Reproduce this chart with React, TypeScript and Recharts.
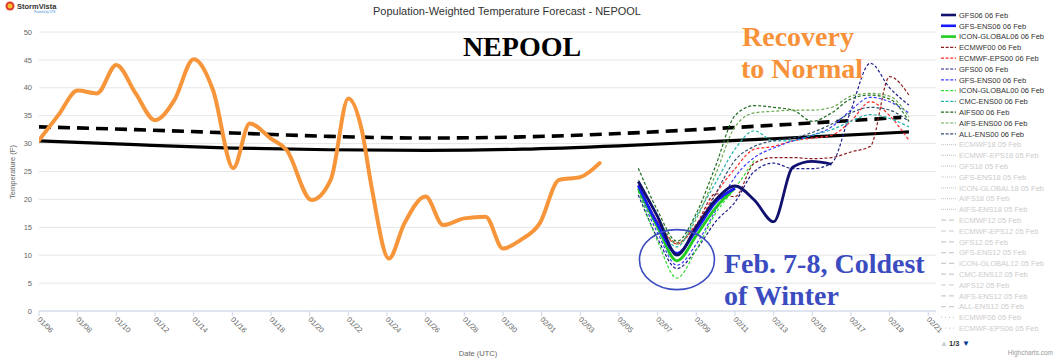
import React from 'react';
import { LineChart, Line, XAxis, YAxis, CartesianGrid, ReferenceDot } from 'recharts';

// ---------- axis data ----------
const X_TICKS = [0, 2, 4, 6, 8, 10, 12, 14, 16, 18, 20, 22, 24, 26, 28, 30, 32, 34, 36, 38, 40, 42, 44, 46];
const X_TICK_LABELS = ['01/06', '01/08', '01/10', '01/12', '01/14', '01/16', '01/18', '01/20', '01/22', '01/24', '01/26', '01/28', '01/30', '02/01', '02/03', '02/05', '02/07', '02/09', '02/11', '02/13', '02/15', '02/17', '02/19', '02/21'];
const Y_TICKS = [0, 5, 10, 15, 20, 25, 30, 35, 40, 45, 50];

// ---------- observed (days since 01/06 00Z) ----------
const OBS_DAYS = [0, 1, 2, 3, 4, 5, 6, 7, 8, 9, 10.05, 10.9, 12, 12.8, 14.1, 15.1, 16, 16.7, 17.2, 18.1, 18.9, 20, 20.9, 22, 23.1, 24, 24.9, 25.9, 26.9, 28, 29];
const OBS_VALUES = [30.6, 35.1, 39.5, 39.0, 44.1, 39.0, 34.2, 37.8, 45.1, 39.6, 25.6, 33.6, 30.9, 28.9, 19.9, 23.6, 38.1, 32.4, 22.3, 9.4, 15.7, 20.5, 15.4, 16.6, 16.9, 11.2, 12.7, 15.7, 23.5, 24.0, 26.5];

// ---------- normals ----------
const NORMAL_DAYS = [0, 5, 10, 15, 20, 25, 30, 35, 40, 45];
const NORMAL_VALUES = [30.5, 29.8, 29.2, 28.9, 28.8, 29.0, 29.6, 30.4, 31.2, 32.1];
const NORMAL2_DAYS = [0, 5, 10, 15, 20, 25, 30, 35, 40, 44.6];
const NORMAL2_VALUES = [33.0, 32.5, 31.9, 31.3, 31.0, 31.2, 31.8, 32.7, 33.7, 34.7];

// ---------- forecasts (days 31..45) ----------
const FC_DAYS = [31, 32, 33, 34, 35, 36, 37, 38, 39, 40, 41, 42, 43, 44, 45];
const GFS06 = [23.2, 16.9, 10.0, 15.1, 19.9, 22.4, 19.9, 16.0, 25.8, 26.8, 26.3];
const GFS_ENS06 = [22.5, 15.5, 10.3, 14.5, 19.5, 22.0];
const ICON_GLOBAL06 = [22.0, 15.0, 9.0, 13.5, 18.5, 22.0];
const ECMWF00 = [22.5, 16.0, 12.2, 15.5, 21.0, 20.5, 26.5, 27.5, 27.5, 27.3, 27.5, 28.5, 29.5, 42.0, 38.7];
const ECMWF_EPS00 = [23.0, 16.0, 12.0, 15.5, 21.0, 25.5, 29.0, 29.5, 30.5, 31.0, 31.5, 34.0, 37.5, 35.0, 30.6];
const GFS00 = [20.8, 13.0, 7.6, 11.0, 16.0, 19.5, 25.0, 26.5, 25.5, 25.5, 26.5, 36.0, 44.4, 40.0, 36.9];
const GFS_ENS00 = [21.5, 14.0, 8.2, 12.0, 18.0, 24.0, 27.5, 29.2, 30.5, 31.5, 33.0, 36.0, 38.3, 37.5, 35.5];
const ICON_GLOBAL00 = [21.5, 12.5, 5.9, 11.0, 17.5, 22.0, 27.0];
const CMC_ENS00 = [22.0, 15.5, 11.5, 17.0, 23.0, 29.0, 32.3, 30.5, 30.5, 31.5, 32.5, 34.0, 35.2, 34.5, 33.0];
const AIFS00 = [25.6, 18.0, 12.5, 17.5, 26.0, 35.0, 36.8, 36.5, 36.0, 34.0, 35.5, 38.0, 38.7, 38.0, 34.0];
const AIFS_ENS00 = [23.5, 17.0, 12.0, 16.5, 24.5, 33.0, 35.5, 35.8, 36.0, 36.0, 36.5, 38.5, 39.0, 38.5, 34.8];
const ALL_ENS00 = [22.0, 15.0, 10.5, 14.5, 21.0, 27.0, 29.5, 30.5, 31.0, 32.0, 33.5, 35.5, 36.5, 36.0, 34.0];

const pts = (days: number[], vals: number[]) => vals.map((v, i) => ({ x: days[i], v }));

type Fc = { name: string; values: number[]; color: string; thick: boolean };
const FORECASTS: Fc[] = [
  { name: 'ECMWF00 06 Feb', values: ECMWF00, color: '#8b1a1a', thick: false },
  { name: 'ECMWF-EPS00 06 Feb', values: ECMWF_EPS00, color: '#ff2a2a', thick: false },
  { name: 'GFS00 06 Feb', values: GFS00, color: '#1c1c8a', thick: false },
  { name: 'GFS-ENS00 06 Feb', values: GFS_ENS00, color: '#3d3dff', thick: false },
  { name: 'ICON-GLOBAL00 06 Feb', values: ICON_GLOBAL00, color: '#33dd33', thick: false },
  { name: 'CMC-ENS00 06 Feb', values: CMC_ENS00, color: '#20b2aa', thick: false },
  { name: 'AIFS00 06 Feb', values: AIFS00, color: '#1f6b1f', thick: false },
  { name: 'AIFS-ENS00 06 Feb', values: AIFS_ENS00, color: '#6aa84f', thick: false },
  { name: 'ALL-ENS00 06 Feb', values: ALL_ENS00, color: '#2f4f6f', thick: false },
  { name: 'ICON-GLOBAL06 06 Feb', values: ICON_GLOBAL06, color: '#22cc22', thick: true },
  { name: 'GFS-ENS06 06 Feb', values: GFS_ENS06, color: '#1a1aff', thick: true },
  { name: 'GFS06 06 Feb', values: GFS06, color: '#10106e', thick: true },
];

// ---------- legend ----------
type LegendItem = { name: string; color: string; style: 'solid' | 'dash' | 'dot' | 'longdash' | 'dotspaced' };
const LEGEND: LegendItem[] = [
  { name: 'GFS06 06 Feb', color: '#10106e', style: 'solid' },
  { name: 'GFS-ENS06 06 Feb', color: '#1a1aff', style: 'solid' },
  { name: 'ICON-GLOBAL06 06 Feb', color: '#22cc22', style: 'solid' },
  { name: 'ECMWF00 06 Feb', color: '#8b1a1a', style: 'dash' },
  { name: 'ECMWF-EPS00 06 Feb', color: '#ff2a2a', style: 'dash' },
  { name: 'GFS00 06 Feb', color: '#1c1c8a', style: 'dash' },
  { name: 'GFS-ENS00 06 Feb', color: '#3d3dff', style: 'dash' },
  { name: 'ICON-GLOBAL00 06 Feb', color: '#33dd33', style: 'dash' },
  { name: 'CMC-ENS00 06 Feb', color: '#20b2aa', style: 'dash' },
  { name: 'AIFS00 06 Feb', color: '#1f6b1f', style: 'dash' },
  { name: 'AIFS-ENS00 06 Feb', color: '#6aa84f', style: 'dash' },
  { name: 'ALL-ENS00 06 Feb', color: '#2f4f6f', style: 'dash' },
  { name: 'ECMWF18 05 Feb', color: '#cccccc', style: 'dot' },
  { name: 'ECMWF-EPS18 05 Feb', color: '#cccccc', style: 'dot' },
  { name: 'GFS18 05 Feb', color: '#cccccc', style: 'dot' },
  { name: 'GFS-ENS18 05 Feb', color: '#cccccc', style: 'dot' },
  { name: 'ICON-GLOBAL18 05 Feb', color: '#cccccc', style: 'dot' },
  { name: 'AIFS18 05 Feb', color: '#cccccc', style: 'dot' },
  { name: 'AIFS-ENS18 05 Feb', color: '#cccccc', style: 'dot' },
  { name: 'ECMWF12 05 Feb', color: '#cccccc', style: 'longdash' },
  { name: 'ECMWF-EPS12 05 Feb', color: '#cccccc', style: 'longdash' },
  { name: 'GFS12 05 Feb', color: '#cccccc', style: 'longdash' },
  { name: 'GFS-ENS12 05 Feb', color: '#cccccc', style: 'longdash' },
  { name: 'ICON-GLOBAL12 05 Feb', color: '#cccccc', style: 'longdash' },
  { name: 'CMC-ENS12 05 Feb', color: '#cccccc', style: 'longdash' },
  { name: 'AIFS12 05 Feb', color: '#cccccc', style: 'longdash' },
  { name: 'AIFS-ENS12 05 Feb', color: '#cccccc', style: 'longdash' },
  { name: 'ALL-ENS12 05 Feb', color: '#cccccc', style: 'longdash' },
  { name: 'ECMWF06 05 Feb', color: '#cccccc', style: 'dotspaced' },
  { name: 'ECMWF-EPS06 05 Feb', color: '#cccccc', style: 'dotspaced' },
];

const FONT = "'Liberation Sans', Arial, sans-serif";
const SERIF = "'Liberation Serif', 'Times New Roman', serif";

const XTick = (props: any) => {
  const { x, y, payload } = props;
  const idx = X_TICKS.indexOf(payload.value);
  const label = idx >= 0 ? X_TICK_LABELS[idx] : '';
  const ax = x - 2;
  const ay = y + 2;
  return (
    <text x={ax} y={ay} transform={`rotate(45 ${ax} ${ay})`} fontSize={7.5} fill="#666" fontFamily={FONT} textAnchor="start">
      {label}
    </text>
  );
};

const dashFor = (s: LegendItem['style']) =>
  s === 'dash' ? '3 1.6' : s === 'dot' ? '1 1' : s === 'longdash' ? '5 3' : s === 'dotspaced' ? '1 3' : undefined;

export default function App() {
  return (
    <div style={{ position: 'absolute', left: 0, top: 0, width: 1060, height: 359, background: '#fff' }}>
      <LineChart width={1060} height={359} margin={{ top: 32, right: 124, bottom: 0, left: 0 }}>
        <CartesianGrid vertical={false} stroke="#e6e6e6" />
        <XAxis
          dataKey="x"
          type="number"
          domain={[0, 46.4]}
          ticks={X_TICKS}
          interval={0}
          allowDataOverflow
          height={48}
          stroke="#ccd6eb"
          tickSize={5}
          tickMargin={2}
          tick={<XTick />}
        />
        <YAxis
          type="number"
          domain={[0, 50]}
          ticks={Y_TICKS}
          width={39}
          axisLine={false}
          tickLine={false}
          tickSize={0}
          tickMargin={7}
          tick={{ fontSize: 7.5, fill: '#666', fontFamily: FONT }}
        />
        <Line data={pts(NORMAL_DAYS, NORMAL_VALUES)} dataKey="v" type="monotone" stroke="#000" strokeWidth={3.2} dot={false} isAnimationActive={false} />
        <Line data={pts(NORMAL2_DAYS, NORMAL2_VALUES)} dataKey="v" type="monotone" stroke="#000" strokeWidth={3.6} strokeDasharray="12 7" dot={false} isAnimationActive={false} />
        <Line data={pts(OBS_DAYS, OBS_VALUES)} dataKey="v" type="monotone" stroke="#f7953b" strokeWidth={4} strokeLinecap="round" dot={false} isAnimationActive={false} />
        {FORECASTS.map((f) => (
          <Line
            key={f.name}
            name={f.name}
            data={pts(FC_DAYS, f.values)}
            dataKey="v"
            type="monotone"
            stroke={f.color}
            strokeWidth={f.thick ? 2.8 : 1.2}
            strokeDasharray={f.thick ? undefined : '3 2'}
            dot={false}
            isAnimationActive={false}
          />
        ))}
        <ReferenceDot
          x={33}
          y={9.2}
          r={0}
          isFront
          shape={(p: any) => <ellipse cx={p.cx} cy={p.cy} rx={37.5} ry={30} fill="none" stroke="#3b4cc0" strokeWidth={1.6} />}
        />
      </LineChart>

      <svg width={1060} height={359} style={{ position: 'absolute', left: 0, top: 0, pointerEvents: 'none' }}>
        {/* logo */}
        <circle cx={10} cy={6} r={4.5} fill="#e23b2e" />
        <circle cx={10} cy={6} r={2.5} fill="#f5c02c" />
        <text x={17} y={9} fontSize={7.5} fontWeight="bold" fill="#333" fontFamily={FONT}>StormVista</text>
        <text x={34} y={13} fontSize={2.8} fill="#3a8fd8" fontFamily={FONT}>Powered by DTN</text>

        {/* title */}
        <text x={507} y={15} fontSize={11} fill="#333" textAnchor="middle" fontFamily={FONT}>
          Population-Weighted Temperature Forecast - NEPOOL
        </text>

        {/* axis titles */}
        <text x={15} y={172} fontSize={7.5} fill="#666" textAnchor="middle" fontFamily={FONT} transform="rotate(-90 15 172)">
          Temperature (F)
        </text>
        <text x={478} y={356} fontSize={7.5} fill="#666" textAnchor="middle" fontFamily={FONT}>Date (UTC)</text>

        {/* annotations */}
        <text x={522} y={56} fontSize={28} fontWeight="bold" fill="#000" textAnchor="middle" fontFamily={SERIF}>NEPOOL</text>
        <text x={742} y={46} fontSize={28} fontWeight="bold" fill="#f7923a" fontFamily={SERIF}>Recovery</text>
        <text x={741} y={78} fontSize={28} fontWeight="bold" fill="#f7923a" fontFamily={SERIF}>to Normal</text>
        <text x={724} y={273} fontSize={28} fontWeight="bold" fill="#3b4cc0" fontFamily={SERIF}>Feb. 7-8, Coldest</text>
        <text x={724} y={305} fontSize={28} fontWeight="bold" fill="#3b4cc0" fontFamily={SERIF}>of Winter</text>

        {/* legend */}
        {LEGEND.map((it, i) => {
          const y = 15 + 10.8 * i;
          const visible = it.color !== '#cccccc';
          return (
            <g key={it.name}>
              <line x1={941} x2={956} y1={y} y2={y} stroke={it.color} strokeWidth={it.style === 'solid' ? 2.6 : 1.2} strokeDasharray={dashFor(it.style)} />
              <text x={959} y={y + 2.7} fontSize={7.5} fill={visible ? '#333' : '#cccccc'} fontFamily={FONT}>{it.name}</text>
            </g>
          );
        })}
        {/* pager */}
        <text x={940} y={346} fontSize={8} fill="#cccccc" fontFamily={FONT}>▲</text>
        <text x={949} y={346} fontSize={7.5} fontWeight="bold" fill="#333" fontFamily={FONT}>1/3</text>
        <text x={962} y={346} fontSize={8} fill="#003399" fontFamily={FONT}>▼</text>

        {/* credits */}
        <text x={1053} y={355} fontSize={6.5} fill="#999" textAnchor="end" fontFamily={FONT}>Highcharts.com</text>
      </svg>
    </div>
  );
}
